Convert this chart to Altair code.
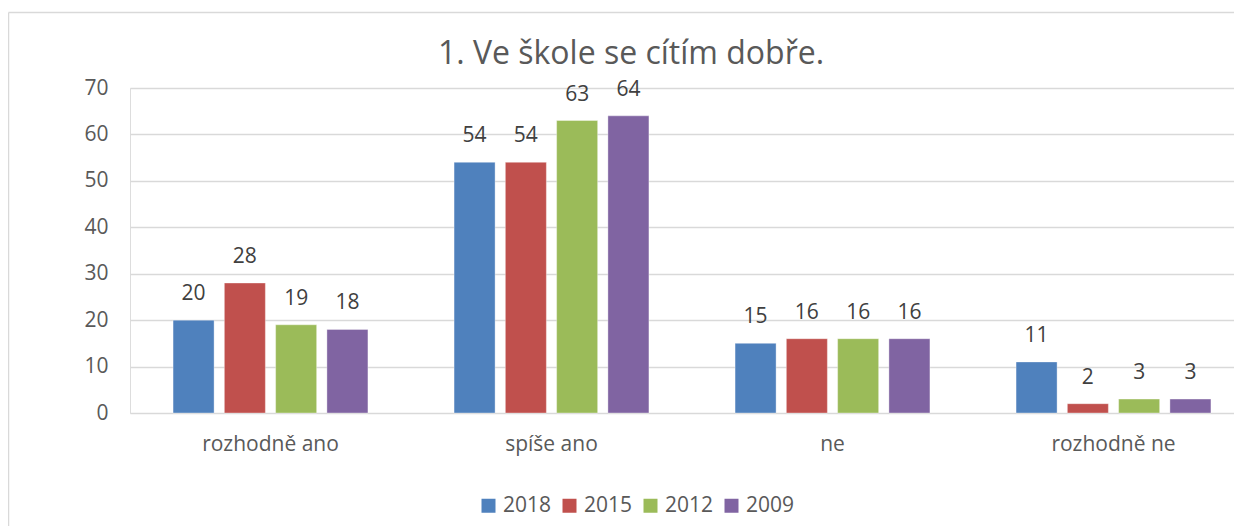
import altair as alt
import pandas as pd

categories = ["rozhodně ano", "spíše ano", "ne", "rozhodně ne"]
years = ["2018", "2015", "2012", "2009"]
colors = ["#4F81BD", "#C0504D", "#9BBB59", "#8064A2"]
v2018 = [20, 54, 15, 11]
v2015 = [28, 54, 16, 2]
v2012 = [19, 63, 16, 3]
v2009 = [18, 64, 16, 3]
y_ticks = [0, 10, 20, 30, 40, 50, 60, 70]
title_text = "1. Ve škole se cítím dobře."

series = {"2018": v2018, "2015": v2015, "2012": v2012, "2009": v2009}
rows = []
for yr in years:
    for cat, val in zip(categories, series[yr]):
        rows.append({"kategorie": cat, "rok": yr, "hodnota": val})
df = pd.DataFrame(rows)

FONT = "Open Sans"
GRAY = "#595959"

base = alt.Chart(df).encode(
    x=alt.X(
        "kategorie:N",
        sort=categories,
        scale=alt.Scale(range=[0, 1124], paddingInner=0.27, paddingOuter=0.135),
        axis=alt.Axis(
            title=None, labelAngle=0, ticks=False, domain=False, grid=False,
            labelPadding=20, labelFontSize=21, labelColor=GRAY, labelFont=FONT,
        ),
    ),
    xOffset=alt.XOffset(
        "rok:N", sort=years, scale=alt.Scale(paddingInner=0.2, paddingOuter=0.1)
    ),
    y=alt.Y(
        "hodnota:Q",
        scale=alt.Scale(domain=[0, 70], nice=False),
        axis=alt.Axis(
            title=None, values=y_ticks, ticks=False, domain=False,
            labelPadding=22, labelFontSize=21, labelColor=GRAY, labelFont=FONT,
            gridColor="#d9d9d9", gridWidth=1.3,
        ),
    ),
)

bars = base.mark_bar(stroke="white", strokeWidth=0.6, strokeOpacity=0.6).encode(
    color=alt.Color(
        "rok:N",
        sort=years,
        scale=alt.Scale(domain=years, range=colors),
        legend=alt.Legend(
            title=None, orient="none", legendX=348, legendY=407,
            direction="horizontal", symbolType="square", symbolSize=196,
            symbolStrokeWidth=0, labelFontSize=21, labelColor=GRAY,
            labelFont=FONT, columnPadding=7, labelOffset=4,
        ),
    )
)

labels = base.mark_text(
    dy=-26, baseline="middle", fontSize=21, color="#404040", font=FONT
).encode(text=alt.Text("hodnota:Q"))

frame_df = pd.DataFrame({"k": [0]})
left_line = alt.Chart(frame_df).mark_rule(color="#d9d9d9", strokeWidth=1.5).encode(
    x=alt.value(-121.5), y=alt.value(-75.5), y2=alt.value(460)
)
top_line = alt.Chart(frame_df).mark_rule(color="#d9d9d9", strokeWidth=1.5).encode(
    x=alt.value(-121.5), x2=alt.value(1130), y=alt.value(-75.5)
)

chart = (
    alt.layer(bars, labels, left_line, top_line)
    .properties(
        width=1104,
        height=325,
        title=alt.TitleParams(
            title_text, fontSize=32, font=FONT, fontWeight="normal",
            color=GRAY, anchor="middle", dx=-51, offset=-59,
        ),
        autosize=alt.AutoSizeParams(type="none"),
        padding={"left": 122, "top": 80, "right": 0, "bottom": 113},
    )
    .configure_view(stroke=None)
    .configure(background="white")
)

chart.save("out.html", embed_options={"renderer": "svg", "actions": False})
